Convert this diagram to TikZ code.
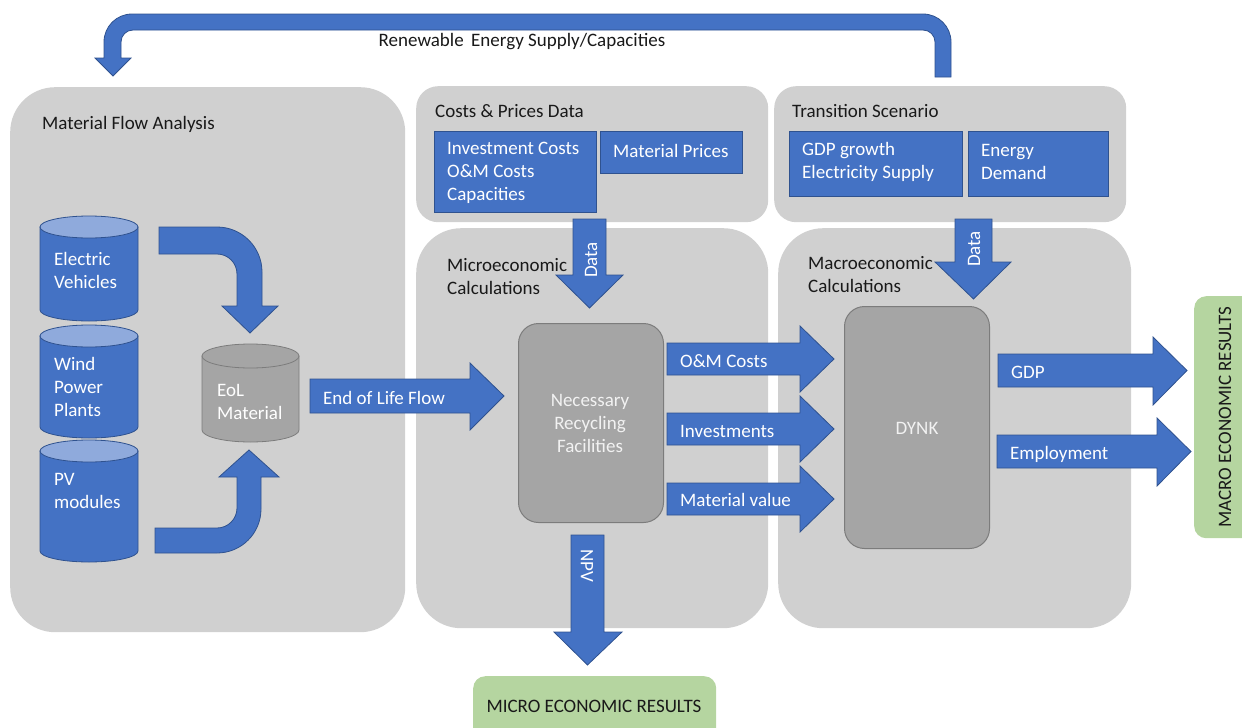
\documentclass[tikz,border=0pt]{standalone}
\usepackage{fontspec}
\setmainfont{Carlito}
\definecolor{panelgray}{RGB}{208,208,208}
\definecolor{blueA}{RGB}{68,114,196}
\definecolor{blueB}{RGB}{47,82,143}
\definecolor{blueL}{RGB}{143,170,220}
\definecolor{grayA}{RGB}{165,165,165}
\definecolor{grayB}{RGB}{124,124,124}
\definecolor{greenA}{RGB}{181,213,160}
\definecolor{txt}{RGB}{25,25,25}
\newcommand\harr[7]{\filldraw[blockarrow] (#1,#4) -- (#2,#4) -- (#2,#6) -- (#3,{(#4+#5)/2}) -- (#2,#7) -- (#2,#5) -- (#1,#5) -- cycle;}
\newcommand\varr[7]{\filldraw[blockarrow] (#4,#1) -- (#4,#2) -- (#6,#2) -- ({(#4+#5)/2},#3) -- (#7,#2) -- (#5,#2) -- (#5,#1) -- cycle;}
\begin{document}
\begin{tikzpicture}[x=1pt,y=-1pt,
  font=\fontsize{19}{23}\selectfont,
  bigpanel/.style={fill=panelgray, draw=none, rounded corners=45pt, anchor=north west, inner sep=0},
  smallpanel/.style={fill=panelgray, draw=none, rounded corners=22pt, anchor=north west, inner sep=0},
  bluebox/.style={fill=blueA, draw=blueB, line width=0.8pt, anchor=north west, inner sep=0},
  blockarrow/.style={fill=blueA, draw=blueB, line width=0.8pt},
  graybox/.style={fill=grayA, draw=grayB, line width=1pt, rounded corners=20pt, anchor=north west, inner sep=0},
  greenbox/.style={fill=greenA, draw=none, rounded corners=12pt, anchor=north west, inner sep=0},
  title/.style={text=txt, anchor=west, inner sep=0, align=left},
  wlbl/.style={text=white, anchor=west, inner sep=0, align=left},
  cylbody/.style={fill=blueA, draw=blueB, line width=0.8pt},
  cyltop/.style={fill=blueL, draw=blueB, line width=0.8pt},
  graycyl/.style={fill=grayA, draw=grayB, line width=0.8pt}]
\useasboundingbox (0,0) rectangle (1242,728);
\clip (0,0) rectangle (1242,728);

% panels
\node[bigpanel, minimum width=395pt, minimum height=545pt] (mfa) at (10,87) {};
\node[smallpanel, minimum width=352pt, minimum height=136pt] (cpd) at (416,86) {};
\node[smallpanel, minimum width=352pt, minimum height=136pt] (ts) at (774,86) {};
\node[bigpanel, minimum width=352pt, minimum height=400pt] (micro) at (416,228) {};
\node[bigpanel, minimum width=353pt, minimum height=400pt] (macro) at (778,228) {};

% panel titles
\node[title] (tmfa) at (42,124) {Material Flow Analysis};
\node[title] (tcpd) at (435,111) {Costs \& Prices Data};
\node[title] (tts) at (792,111) {Transition Scenario};
\node[title] (tmicro) at (447,276.5) {Microeconomic\\Calculations};
\node[title] (tmacro) at (808,274.5) {Macroeconomic\\Calculations};

% blue data boxes
\node[bluebox, minimum width=162pt, minimum height=81pt] (inv) at (434,131) {};
\node[wlbl] (invt) at (447,173) {Investment Costs\\O\&M Costs\\Capacities};
\node[bluebox, minimum width=142pt, minimum height=42pt] (mp) at (600,131) {};
\node[wlbl] (mpt) at (613,151) {Material Prices};
\node[bluebox, minimum width=173pt, minimum height=65pt] (gdpg) at (789,131) {};
\node[wlbl] (gdpgt) at (802,161.5) {GDP growth\\Electricity Supply};
\node[bluebox, minimum width=140pt, minimum height=65pt] (ed) at (968,131) {};
\node[wlbl] (edt) at (981,161.5) {Energy\\Demand};

% top U-turn arrow
\filldraw[blockarrow] (951,77) -- (951,42) arc[start angle=0, end angle=-90, radius=28] -- (132,14)
  arc[start angle=-90, end angle=-180, radius=28] -- (104,58) -- (95,58) -- (113,76) -- (131,58) -- (121,58) -- (121,42)
  arc[start angle=180, end angle=270, radius=12] -- (923,30) arc[start angle=-90, end angle=0, radius=12] -- (935,77) -- cycle;
\node[text=txt, inner sep=0] (res) at (522,42) {Renewable\, Energy Supply/Capacities};

% cylinders
\filldraw[cylbody] (40,227) -- (40,310) arc[start angle=180, end angle=0, x radius=49, y radius=11] -- (138,227) -- cycle;
\filldraw[cyltop] (89,227) ellipse[x radius=49, y radius=11];
\filldraw[cylbody] (40,336) -- (40,427) arc[start angle=180, end angle=0, x radius=49, y radius=11] -- (138,336) -- cycle;
\filldraw[cyltop] (89,336) ellipse[x radius=49, y radius=11];
\filldraw[cylbody] (40,451) -- (40,551) arc[start angle=180, end angle=0, x radius=49, y radius=11] -- (138,451) -- cycle;
\filldraw[cyltop] (89,451) ellipse[x radius=49, y radius=11];
\node[wlbl] (ev) at (54,270) {Electric\\Vehicles};
\node[wlbl] (wind) at (54,387) {Wind\\Power\\Plants};
\node[wlbl] (pv) at (54,490.5) {PV\\modules};

\filldraw[graycyl] (202,356) -- (202,430) arc[start angle=180, end angle=0, x radius=48.5, y radius=12] -- (299,356) -- cycle;
\filldraw[graycyl] (250.5,356) ellipse[x radius=48.5, y radius=12];
\node[wlbl] (eol) at (217,401.5) {EoL\\Material};

% curved arrows
\filldraw[blockarrow] (159,227) -- (217,227) arc[start angle=-90, end angle=0, radius=45] -- (262,306) -- (278,306) -- (250,333) -- (222,306) -- (237,306) -- (237,274) arc[start angle=0, end angle=-90, radius=20] -- (159,254) -- cycle;
\filldraw[blockarrow] (155,528) -- (217,528) arc[start angle=90, end angle=0, radius=20] -- (237,477) -- (219,477) -- (249,450) -- (279,477) -- (261,477) -- (261,509) arc[start angle=0, end angle=90, radius=44] -- (155,553) -- cycle;

% End of life flow
\harr{310}{470}{504}{379}{413}{363}{430}
\node[wlbl] (eolf) at (323,398) {End of Life Flow};

% recycling box and DYNK
\node[graybox, minimum width=145pt, minimum height=199pt] (nrf) at (518,323) {};
\node[text=white!95!black, align=center, inner sep=0] (nrft) at (590,423) {Necessary\\Recycling\\Facilities};
\node[graybox, minimum width=145pt, minimum height=242pt] (dynk) at (844,306) {};
\node[text=white!95!black, inner sep=0] (dynkt) at (917,428) {DYNK};

% data arrows
\varr{219}{275}{308}{573}{606}{556}{623}
\node[text=white, rotate=90, inner sep=0] (d1) at (591,260) {Data};
\varr{219}{262}{299}{955}{992}{935}{1011}
\node[text=white, rotate=90, inner sep=0] (d2) at (974,249) {Data};

% micro -> macro arrows
\harr{667}{800}{834}{343}{375}{326}{392}
\node[wlbl] (om) at (680,361) {O\&M Costs};
\harr{667}{800}{834}{413}{445}{396}{462}
\node[wlbl] (invs) at (680,431) {Investments};
\harr{667}{800}{834}{483}{515}{466}{532}
\node[wlbl] (mv) at (680,500) {Material value};

% NPV
\varr{535}{632}{665}{571}{604}{554}{622}
\node[text=white, rotate=-90, inner sep=0] (npv) at (587,566) {NPV};

% macro outputs
\harr{998}{1153}{1187}{354}{387}{337}{405}
\node[wlbl] (gdp) at (1011,372) {GDP};
\harr{997}{1157}{1191}{435}{468}{418}{486}
\node[wlbl] (emp) at (1010,454) {Employment};

% results
\node[greenbox, minimum width=243pt, minimum height=70pt] (micror) at (473,676) {};
\node[text=txt, inner sep=0] (micrort) at (594,706) {MICRO ECONOMIC RESULTS};
\node[greenbox, minimum width=70pt, minimum height=242pt] (macror) at (1194,296) {};
\node[text=txt, rotate=90, inner sep=0] (macrort) at (1225,417) {MACRO ECONOMIC RESULTS};
\end{tikzpicture}
\end{document}
